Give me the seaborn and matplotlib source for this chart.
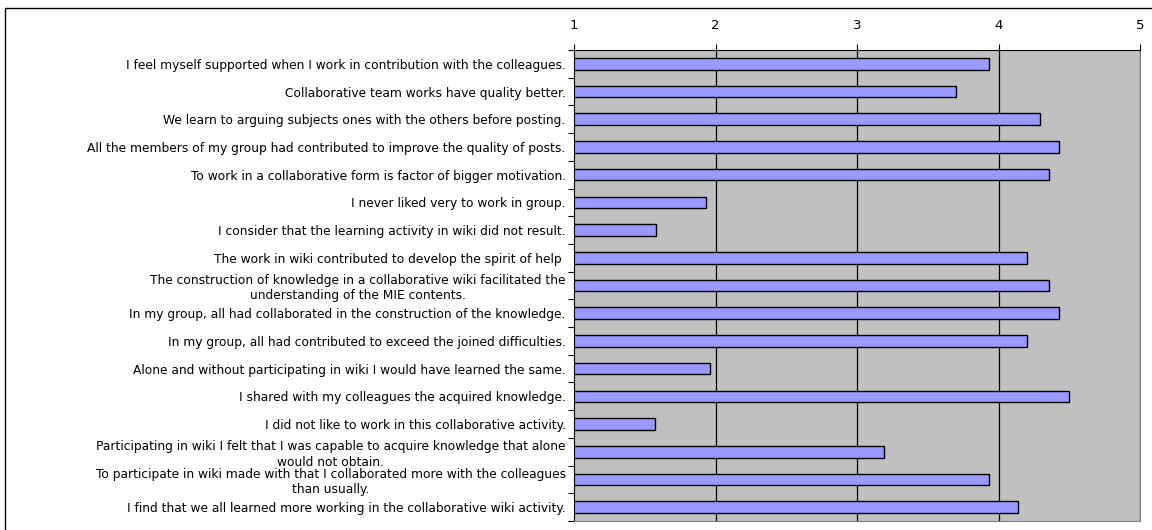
# survey results - horizontal bar chart (likert means)
import numpy as np
import matplotlib
matplotlib.use("Agg")
import matplotlib.pyplot as plt
import seaborn as sns

# statements (top to bottom)
statements = [
    "I feel myself supported when I work in contribution with the colleagues.",
    "Collaborative team works have quality better.",
    "We learn to arguing subjects ones with the others before posting.",
    "All the members of my group had contributed to improve the quality of posts.",
    "To work in a collaborative form is factor of bigger motivation.",
    "I never liked very to work in group.",
    "I consider that the learning activity in wiki did not result.",
    "The work in wiki contributed to develop the spirit of help ",
    "The construction of knowledge in a collaborative wiki facilitated the\nunderstanding of the MIE contents.",
    "In my group, all had collaborated in the construction of the knowledge.",
    "In my group, all had contributed to exceed the joined difficulties.",
    "Alone and without participating in wiki I would have learned the same.",
    "I shared with my colleagues the acquired knowledge.",
    "I did not like to work in this collaborative activity.",
    "Participating in wiki I felt that I was capable to acquire knowledge that alone\nwould not obtain.",
    "To participate in wiki made with that I collaborated more with the colleagues\nthan usually.",
    "I find that we all learned more working in the collaborative wiki activity.",
]

# mean scores
scores = [3.93, 3.70, 4.29, 4.43, 4.36, 1.93, 1.58, 4.20, 4.36,
          4.43, 4.20, 1.96, 4.50, 1.57, 3.19, 3.93, 4.14]

x_ticks = [1, 2, 3, 4, 5]

sns.set_style("white")
plt.rcParams['font.family'] = ['DejaVu Sans']
plt.rcParams['text.color'] = 'black'

fig = plt.figure(figsize=(11.52, 5.30), dpi=100)
ax = fig.add_axes([574 / 1152, 1 - 521 / 530, 566 / 1152, 471 / 530])

# grey plot area
ax.set_facecolor("#C0C0C0")

sns.barplot(x=scores, y=list(range(len(scores))), orient="h",
            color="#9999FF", edgecolor="black", linewidth=1.0,
            width=0.42, saturation=1, ax=ax)

ax.set_xlim(1, 5)
ax.set_ylim(len(scores) - 0.5, -0.5)

# vertical gridlines
for v in x_ticks[1:]:
    ax.axvline(v, color="black", linewidth=0.9, zorder=0.5)

ax.xaxis.tick_top()
ax.set_xticks(x_ticks)
ax.set_xticklabels([str(t) for t in x_ticks], fontsize=9.5)
ax.tick_params(axis="x", top=True, length=4, width=0.8, pad=9,
               color="black", labelcolor="black")

# labels in the middle, tick marks between categories
ax.set_yticks(range(len(statements)))
ax.set_yticklabels(statements, fontsize=8.8, multialignment="center",
                   linespacing=1.25)
ax.set_yticks(np.arange(-0.5, len(statements), 1.0), minor=True)
ax.tick_params(axis="y", which="major", length=0, pad=6, labelcolor="black")
ax.tick_params(axis="y", which="minor", left=True, length=4, width=0.8, color="black")

ax.set_xlabel("")
ax.set_ylabel("")

for side in ["left", "top", "right", "bottom"]:
    ax.spines[side].set_visible(True)
    ax.spines[side].set_color("black")
    ax.spines[side].set_linewidth(0.8)
ax.spines["right"].set_color("#808080")
ax.spines["bottom"].set_color("#808080")

# outer frame of the chart
frame = plt.Rectangle((5 / 1152, -0.01), 1.02, 1 - 8 / 530 + 0.01,
                      transform=fig.transFigure, fill=False,
                      edgecolor="black", linewidth=1.0)
fig.patches.append(frame)

fig.savefig("out.png", dpi=100)
